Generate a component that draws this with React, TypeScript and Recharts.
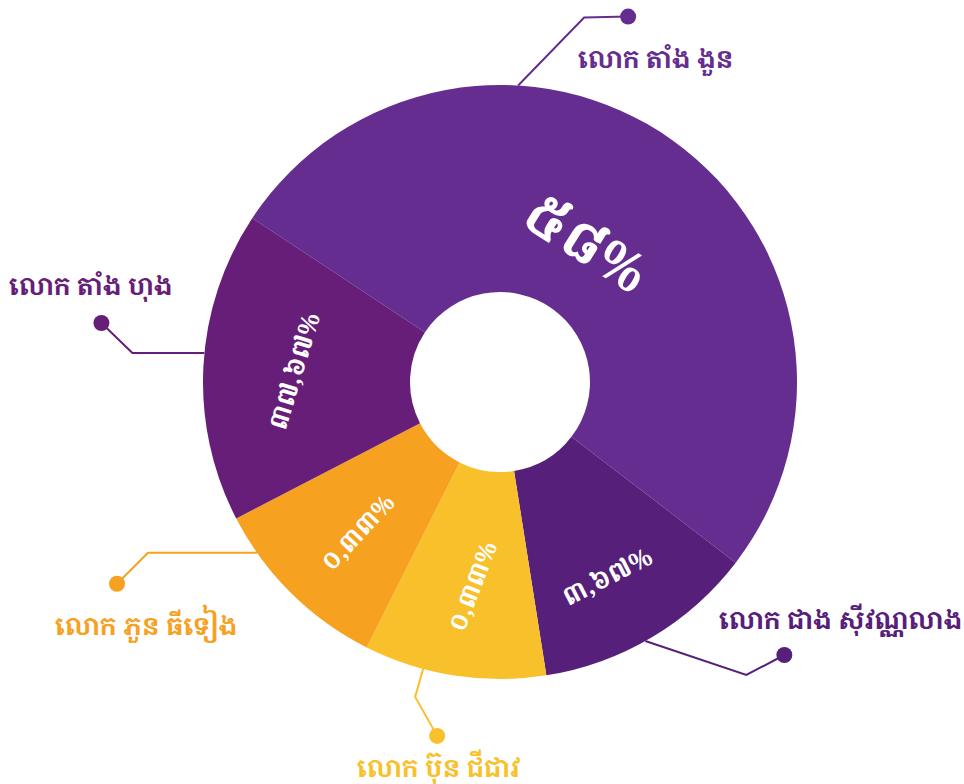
import React from 'react';
import { PieChart, Pie, Cell } from 'recharts';

// candidates, clockwise from the top slice
const names = ['លោក តាំង ងួន', 'លោក ជាង ស៊ីវណ្ណលាង', 'លោក ប៊ុន ជីជាវ', 'លោក ភួន ធីទៀង', 'លោក តាំង ហុង'];
// how much of the ring each slice takes in the picture (%)
const shares = [51.1, 12.1, 9.9, 10.0, 16.9];
// the percentage printed inside each slice
const pctLabels = ['៥៨%', '៣,៦៧%', '០,៣៣%', '០,៣៣%', '៣៧,៦៧%'];
const colors = ['#652D8F', '#56207A', '#F8C12C', '#F6A11F', '#661E78'];

const data = names.map((name, i) => ({ name, value: shares[i], pct: pctLabels[i] }));

const KHMER = '"Noto Serif Khmer", "Noto Sans Khmer", "Khmer OS Battambang", Battambang, Hanuman, "DejaVu Sans", sans-serif';

// inside label: radius, angle shift from the slice middle, rotation, font size
const insideLayout = [
  { r: 165, da: 3.7, rot: 32, size: 54 },
  { r: 221, da: -1.9, rot: -27, size: 25 },
  { r: 206, da: 1, rot: -69, size: 24 },
  { r: 207, da: 1, rot: -47, size: 24 },
  { r: 207, da: 0, rot: -73, size: 25 },
];

// callout: where the leader leaves the ring, elbow and dot offsets, text position (from centre)
const calloutLayout = [
  { at: 86.5, elbow: [66, -68], dot: [110, -69], text: [78, -314] },
  { at: -60.7, elbow: [101, 34], dot: [139, 14], text: [219, 247] },
  { at: -105, elbow: [-8, 28], dot: [14, 67], text: [-143, 395] },
  { at: -144.9, elbow: [-109, 0], dot: [-140, 31], text: [-445, 253] },
  { at: 174.4, elbow: [-72, 0], dot: [-103, -30], text: [-491, -87] },
];

const RADIAN = Math.PI / 180;

const renderLabel = (props: any) => {
  const { cx, cy, midAngle, outerRadius, index } = props;
  const ins = insideLayout[index];
  const co = calloutLayout[index];
  const a = (midAngle + ins.da) * RADIAN;
  const lx = cx + ins.r * Math.cos(a);
  const ly = cy - ins.r * Math.sin(a);
  const sx = cx + outerRadius * Math.cos(co.at * RADIAN);
  const sy = cy - outerRadius * Math.sin(co.at * RADIAN);
  const ex = sx + co.elbow[0];
  const ey = sy + co.elbow[1];
  const dx = sx + co.dot[0];
  const dy = sy + co.dot[1];
  const color = colors[index];
  return (
    <g>
      <text
        x={lx}
        y={ly}
        fill="#fff"
        fontSize={ins.size}
        fontWeight="bold"
        fontFamily={KHMER}
        textAnchor="middle"
        dominantBaseline="central"
        transform={`rotate(${ins.rot}, ${lx}, ${ly})`}
      >
        {data[index].pct}
      </text>
      <polyline points={`${sx},${sy} ${ex},${ey} ${dx},${dy}`} fill="none" stroke={color} strokeWidth={2} />
      <circle cx={dx} cy={dy} r={8} fill={color} />
      <text x={cx + co.text[0]} y={cy + co.text[1]} fill={color} fontSize={25} fontWeight="bold" fontFamily={KHMER}>
        {data[index].name}
      </text>
    </g>
  );
};

export default function App() {
  return (
    <div style={{ position: 'absolute', left: 0, top: 0, background: '#fff' }}>
      <PieChart width={964} height={784} margin={{ top: 0, right: 0, bottom: 0, left: 0 }}>
        <Pie
          data={data}
          dataKey="value"
          cx={500}
          cy={382}
          innerRadius={90}
          outerRadius={297}
          startAngle={146.5}
          endAngle={-213.5}
          stroke="none"
          labelLine={false}
          label={renderLabel}
          isAnimationActive={false}
        >
          {data.map((d, i) => (
            <Cell key={d.name} fill={colors[i]} />
          ))}
        </Pie>
      </PieChart>
    </div>
  );
}
